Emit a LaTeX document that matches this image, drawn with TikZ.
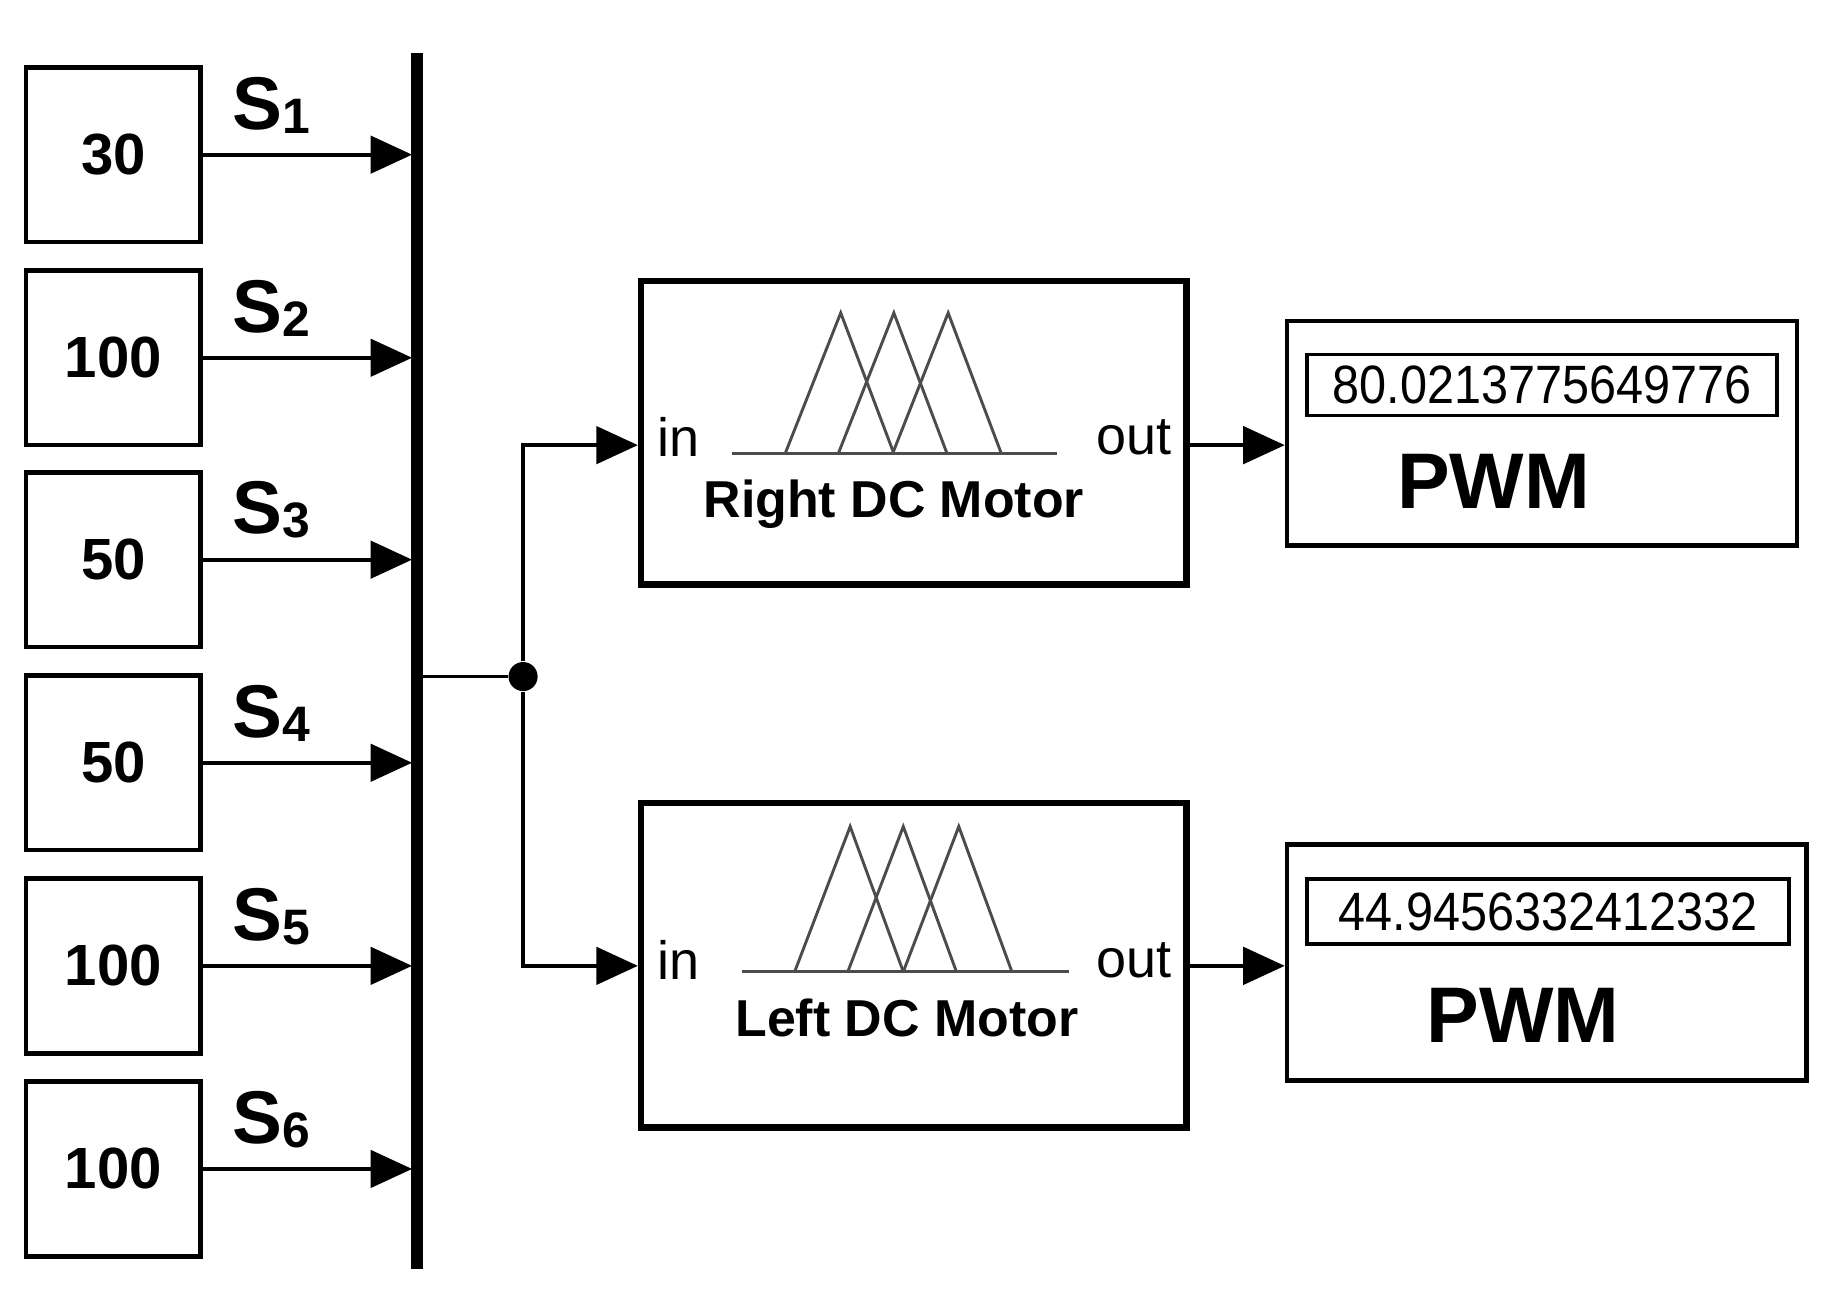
\documentclass[tikz,border=0pt]{standalone}
\usepackage{fontspec}
\setmainfont{Liberation Sans}
\usetikzlibrary{arrows.meta}
\begin{document}
\begin{tikzpicture}[x=0.01cm,y=-0.01cm,
  blk/.style={draw,line width=1.6pt,inner sep=0},
  cst/.style={draw,line width=1.1pt,minimum width=148*0.01cm,minimum height=148*0.01cm,font=\bfseries\fontsize{14}{14}\selectfont},
  sig/.style={line width=0.9pt,-{Triangle[length=10pt,width=9pt]}},
  mf/.style={line width=0.7pt,draw=black!70},
  slab/.style={font=\bfseries\fontsize{18}{18}\selectfont},
  val/.style={draw,line width=0.8pt,inner sep=0,font=\fontsize{13}{13}\selectfont},
  disp/.style={draw,line width=1.1pt}]
\useasboundingbox (0,0) rectangle (1560,1095);
\foreach \v/\y/\n [count=\i] in {30/131/a,100/303/b,50/474/c,50/646/d,100/818/e,100/990/f}{
  \node[cst] (c\i) at (96,\y) {\v};
  \coordinate (m\i) at (349,\y);
  \draw[sig] (c\i.east) -- (m\i);
  \node[slab] (s\i) at (230,\y-42) {S\fontsize{12}{12}\selectfont\raisebox{-1pt}{\i}};
}
\draw[line width=3pt] (353,45) coordinate (mt) -- (353,1075) coordinate (mb);
\coordinate (mo) at (356,573);
\node[circle,fill,inner sep=0,minimum size=7pt] (j) at (443,573) {};
\draw[line width=0.9pt] (mo) -- (j);
% fuzzy blocks
\node[blk,minimum width=462*0.01cm,minimum height=257*0.01cm] (R) at (774,366.5) {};
\node[blk,minimum width=462*0.01cm,minimum height=275*0.01cm] (L) at (774,817.5) {};
\draw[sig] (j) |- (R.west|-0,377);
\draw[sig] (j) |- (L.west|-0,818);
\node[font=\fontsize{13}{13}\selectfont] (ri) at (575,370) {in};
\node[font=\fontsize{13}{13}\selectfont] (ro) at (960,370) {out};
\node[font=\fontsize{13}{13}\selectfont] (li) at (575,813) {in};
\node[font=\fontsize{13}{13}\selectfont] (lo) at (960,813) {out};
\draw[mf] (620,384) -- (895,384);
\foreach \p in {712,757,803}{\draw[mf] (\p-47,384) -- (\p,265) -- (\p+45,384);}
\draw[mf] (628,823) -- (905,823);
\foreach \p in {720,765,812}{\draw[mf] (\p-47,823) -- (\p,700) -- (\p+45,823);}
\node[font=\bfseries\fontsize{12.5}{12.5}\selectfont] (rl) at (757,427) {Right DC Motor};
\node[font=\bfseries\fontsize{12.5}{12.5}\selectfont] (ll) at (768,862) {Left DC Motor};
% displays
\node[disp,minimum width=432*0.01cm,minimum height=190*0.01cm] (D1) at (1306,367) {};
\node[disp,minimum width=440*0.01cm,minimum height=200*0.01cm] (D2) at (1310,815) {};
\draw[sig] (R.east|-0,377) -- (D1.west|-0,377);
\draw[sig] (L.east|-0,818) -- (D2.west|-0,818);
\node[val,minimum width=398*0.01cm,minimum height=52*0.01cm] (v1) at (1306,326) {\scalebox{0.9}[1]{80.0213775649776}};
\node[val,minimum width=408*0.01cm,minimum height=55*0.01cm] (v2) at (1311,772) {\scalebox{0.9}[1]{44.9456332412332}};
\node[font=\bfseries\fontsize{19}{19}\selectfont] (p1) at (1265,408) {PWM};
\node[font=\bfseries\fontsize{19}{19}\selectfont] (p2) at (1290,860) {PWM};
\end{tikzpicture}
\end{document}
